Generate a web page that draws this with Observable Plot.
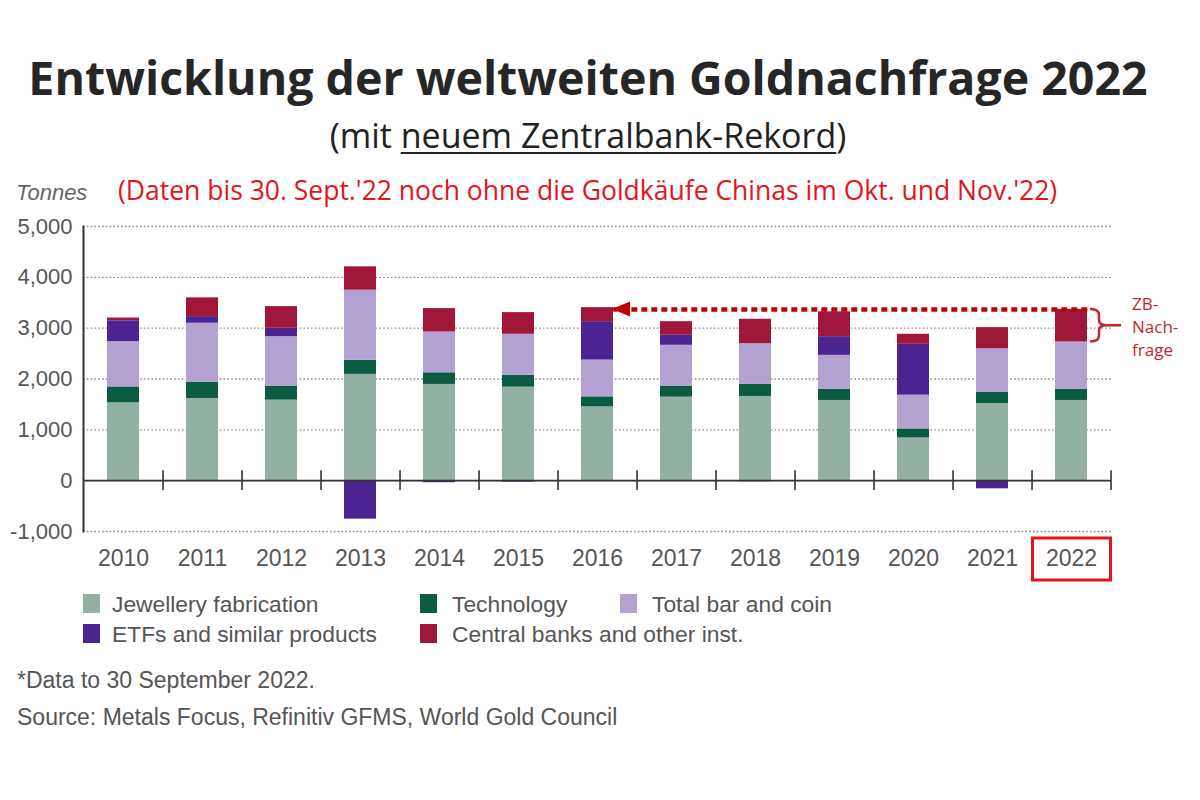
<!DOCTYPE html>
<html>
<head>
<meta charset="utf-8">
<script src="https://cdn.jsdelivr.net/npm/d3@7"></script>
<script src="https://cdn.jsdelivr.net/npm/@observablehq/plot@0.6"></script>
<style>
  body { margin: 0; background: #fff; width: 1200px; height: 800px; position: relative; overflow: hidden; font-family: "Liberation Sans", Arial, sans-serif; }
  .abs { position: absolute; white-space: nowrap; line-height: 1; }
  #title { left: 0; width: 1176px; text-align: center; top: 53.7px; font-family: "Open Sans", sans-serif; font-weight: 700; font-size: 46.5px; line-height: 1; color: #262626; }
  #subtitle { left: 0; width: 1176px; text-align: center; top: 117.8px; font-family: "Open Sans", sans-serif; font-size: 34px; line-height: 1; color: #222; }
  #subtitle u { text-decoration-thickness: 1.5px; text-underline-offset: 4px; }
  #tonnes { left: 16px; top: 182.1px; font-size: 22px; font-style: italic; color: #666; }
  #note { left: 118px; top: 177.2px; font-family: "Open Sans", sans-serif; font-size: 26.5px; color: #e3141b; }
  #chart { position: absolute; left: 0; top: 205px; }
  .leg { position: absolute; font-size: 22.8px; line-height: 1; color: #555; white-space: nowrap; }
  .sw { position: absolute; width: 17px; height: 19px; }
  .foot { position: absolute; left: 17px; font-size: 23px; line-height: 1; color: #555; white-space: nowrap; }
</style>
</head>
<body>
<div id="title" class="abs">Entwicklung der weltweiten Goldnachfrage 2022</div>
<div id="subtitle" class="abs">(mit <u>neuem Zentralbank-Rekord</u>)</div>
<div id="tonnes" class="abs">Tonnes</div>
<div id="note" class="abs">(Daten bis 30. Sept.'22 noch ohne die Goldkäufe Chinas im Okt. und Nov.'22)</div>
<div id="chart"></div>
<div id="legend"></div>
<div class="foot" style="top:668.5px">*Data to 30 September 2022.</div>
<div class="foot" style="top:705.5px">Source: Metals Focus, Refinitiv GFMS, World Gold Council</div>
<script>
// ---- data (tonnes) ----
const years = ["2010","2011","2012","2013","2014","2015","2016","2017","2018","2019","2020","2021","2022"];
const categories = ["Jewellery fabrication","Technology","Total bar and coin","ETFs and similar products","Central banks and other inst."];
const jewellery    = [1530, 1617, 1584, 2091, 1893, 1840, 1452, 1643, 1657, 1578,  840, 1519, 1578];
const technology   = [ 315,  322,  276,  276,  229,  231,  197,  217,  236,  217,  178,  223,  217];
const barCoin      = [ 890, 1158,  973, 1381,  803,  809,  724,  803,  801,  670,  664,  854,  933];
const etfs         = [ 410,  130,  165, -757,  -40,  -30,  755,  197,  -20,  368, 1000, -160,    0];
const centralBanks = [  55,  369,  426,  459,  460,  426,  276,  268,  481,  488,  198,  414,  641];
const colors = ["#93b1a2", "#0b5b42", "#b3a2d1", "#4b2491", "#a0173a"];
const yTicks = [-1000, 0, 1000, 2000, 3000, 4000, 5000];
const yTickLabels = ["-1,000", "0", "1,000", "2,000", "3,000", "4,000", "5,000"];
const highlightYear = "2022";
const compareYear = "2016";
const cbLabel = "ZB-\nNach-\nfrage";

const series = [jewellery, technology, barCoin, etfs, centralBanks];
const table = years.flatMap((year, i) => categories.map((category, k) => ({year, category, value: series[k][i]})));

const hi = years.indexOf(highlightYear);
const posSum = i => series.reduce((s, arr) => s + Math.max(0, arr[i]), 0);
const total22 = posSum(hi);
const cbMid = total22 - centralBanks[hi] / 2;

// ---- layout ----
const W = 1200, H = 385, mL = 83, mR = 89, mT = 21, mB = 59;
const step = (W - mL - mR) / years.length;
const bw = step * 0.4;
const red = "#c00000";

const chart = Plot.plot({
  width: W, height: H,
  marginLeft: mL, marginRight: mR, marginTop: mT, marginBottom: mB,
  style: {fontFamily: "'Liberation Sans', Arial, sans-serif", background: "transparent", overflow: "visible"},
  x: {type: "band", domain: years, paddingInner: 0.6, paddingOuter: 0.3, axis: null},
  y: {domain: [-1000, 5000], axis: null},
  color: {domain: categories, range: colors},
  marks: [
    Plot.gridY(yTicks, {stroke: "#8a8a8a", strokeOpacity: 1, strokeWidth: 1.4, strokeDasharray: "1.6,2.2"}),
    Plot.barY(table, {x: "year", y: "value", fill: "category"}),
    Plot.ruleY([0], {stroke: "#333", strokeWidth: 1.6}),
    Plot.ruleX(years, {x: d => d, y1: -195, y2: 195, dx: step / 2, stroke: "#333", strokeWidth: 1.6}),
    Plot.frame({anchor: "left", stroke: "#333", strokeWidth: 2}),
    Plot.axisY(yTicks, {tickSize: 0, tickPadding: 11, fontSize: 22, color: "#555", label: null,
      tickFormat: d => yTickLabels[yTicks.indexOf(d)]}),
    Plot.axisX({tickSize: 0, tickPadding: 18, fontSize: 23, color: "#555", label: null}),
    Plot.link([{from: highlightYear, to: compareYear, y: total22}], {
      x1: "from", x2: "to", y1: "y", y2: "y", dx: bw / 2,
      stroke: red, strokeWidth: 4.5, strokeDasharray: "6,4"
    }),
    Plot.text([{year: highlightYear, y: cbMid, t: cbLabel}], {
      x: "year", y: "y", text: "t", dx: step / 2 + 21, textAnchor: "start", lineHeight: 1.35,
      fontSize: 17, fontFamily: "'Open Sans', sans-serif", fill: "#c0282d"
    })
  ]
});
document.getElementById("chart").append(chart);

// ---- annotations drawn from the plot's scales ----
const sx = chart.scale("x"), sy = chart.scale("y");
const band = typeof sx.bandwidth === "function" ? sx.bandwidth() : sx.bandwidth;
const cx = v => sx.apply(v) + band / 2;
const svg = d3.select(chart);
const g = svg.append("g");

// arrow head at the 2016 bar
const tipX = cx(compareYear) + band / 2 - 1, ay = sy.apply(total22);
g.append("path").attr("d", `M${tipX},${ay} L${tipX + 18},${ay - 7.5} L${tipX + 18},${ay + 7.5} Z`).attr("fill", red);

// brace next to the central-bank segment of 2022
const bx0 = cx(highlightYear) + band / 2 + 3;
const yTop = sy.apply(total22), yBot = sy.apply(total22 - centralBanks[hi]), yM = (yTop + yBot) / 2;
const bxm = bx0 + 9, bxt = bx0 + 17;
g.append("path")
  .attr("d", `M${bx0},${yTop} Q${bxm},${yTop} ${bxm},${yTop + 6} L${bxm},${yM - 5} Q${bxm},${yM} ${bxt},${yM} Q${bxm},${yM} ${bxm},${yM + 5} L${bxm},${yBot - 6} Q${bxm},${yBot} ${bx0},${yBot} M${bxt},${yM} L${bxt + 14},${yM}`)
  .attr("fill", "none").attr("stroke", "#c0282d").attr("stroke-width", 2.5);

// red box around the 2022 axis label
const frameBottom = sy.apply(-1000);
const stepPx = typeof sx.step === "function" ? sx.step() : sx.step;
g.append("rect")
  .attr("x", cx(highlightYear) - stepPx / 2 + 1).attr("y", frameBottom + 7)
  .attr("width", stepPx - 1).attr("height", 42)
  .attr("fill", "none").attr("stroke", "#e3141b").attr("stroke-width", 3);

// ---- legend ----
const legendPos = [[83, 593], [420, 593], [620, 593], [83, 623], [420, 623]];
const legend = document.getElementById("legend");
categories.forEach((c, i) => {
  const [lx, ly] = legendPos[i];
  const sw = document.createElement("div");
  sw.className = "sw";
  sw.style.left = lx + "px"; sw.style.top = (ly + 1) + "px"; sw.style.background = colors[i];
  const tx = document.createElement("div");
  tx.className = "leg";
  tx.style.left = (lx + (i % 3 === 0 ? 29 : 32)) + "px"; tx.style.top = ly + "px";
  tx.textContent = c;
  legend.append(sw, tx);
});
</script>
</body>
</html>
